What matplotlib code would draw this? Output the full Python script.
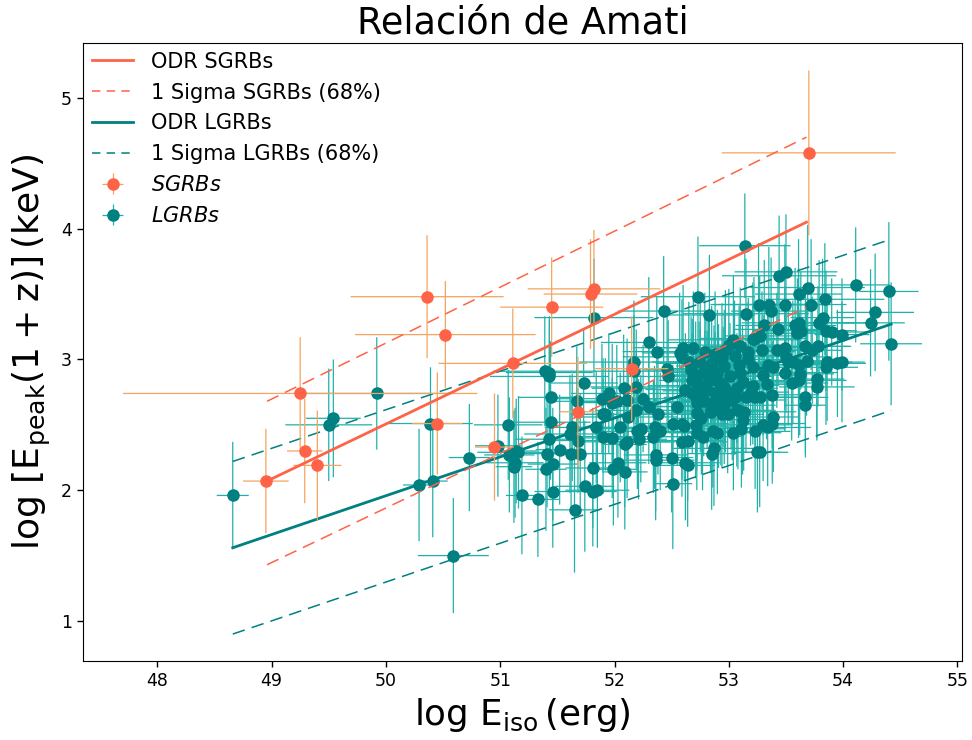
import matplotlib
matplotlib.use('Agg')
import matplotlib.pyplot as plt

# lineas ODR y bandas de 1 sigma
sgrb_fit_x = [48.96, 53.68]
sgrb_fit_y = [2.07, 4.05]
sgrb_up_y = [2.68, 4.70]
sgrb_lo_y = [1.43, 3.40]

lgrb_fit_x = [48.66, 54.42]
lgrb_fit_y = [1.56, 3.27]
lgrb_up_y = [2.22, 3.92]
lgrb_lo_y = [0.90, 2.61]

# SGRBs
sgrb_x = [53.70, 50.36, 50.52, 49.25, 51.11, 51.45, 51.79, 51.82,
          52.15, 51.68, 50.45, 50.95, 49.29, 49.40, 48.95]
sgrb_y = [4.58, 3.48, 3.19, 2.74, 2.97, 3.40, 3.50, 3.54,
          2.93, 2.60, 2.51, 2.33, 2.30, 2.19, 2.07]
sgrb_xerr = [0.76, 0.67, 0.79, 1.55, 0.65, 0.45, 0.41, 0.58,
             0.32, 0.17, 0.22, 0.17, 0.155, 0.21, 0.20]
sgrb_yerr = [0.63, 0.47, 0.41, 0.43, 0.42, 0.38, 0.42, 0.45,
             0.40, 0.42, 0.39, 0.41, 0.40, 0.42, 0.40]

# LGRBs
lgrb_x = [48.66, 50.59, 49.92, 49.50, 49.54, 50.39, 50.29, 50.41,
          50.73, 50.98, 51.07, 51.08, 51.14, 51.13, 51.12, 51.39,
          51.43, 51.43, 51.73, 51.44, 51.67, 51.44, 51.63, 51.61,
          51.84, 51.43, 51.68, 51.90, 51.98, 51.52, 51.16, 51.41,
          51.62, 51.70, 51.46, 51.40, 51.81, 51.99, 51.19, 51.33,
          51.46, 51.74, 51.81, 51.85, 51.65, 52.03, 52.09, 52.36,
          52.36, 52.50, 52.62, 52.64, 52.51, 52.87, 52.85, 53.27,
          53.25, 53.23, 53.30, 53.34, 53.39, 53.38, 53.04, 53.12,
          53.08, 52.90, 52.86, 52.77, 52.72, 52.64, 52.59, 52.40,
          52.34, 52.35, 52.23, 52.20, 52.21, 52.11, 52.09, 52.05,
          52.51, 52.59, 52.38, 52.71, 52.72, 52.84, 52.93, 52.99,
          51.92, 52.12, 52.30, 52.37, 52.46, 52.17, 52.17, 52.08,
          52.19, 51.95, 51.89, 51.98, 52.02, 52.11, 52.25, 52.30,
          52.19, 51.90, 52.55, 52.61, 52.59, 52.57, 52.60, 52.69,
          52.79, 52.67, 52.75, 52.85, 52.94, 52.97, 53.00, 53.04,
          53.10, 53.17, 53.17, 53.21, 53.21, 53.27, 53.31, 53.43,
          53.29, 53.42, 53.49, 53.34, 53.39, 53.30, 53.33, 53.49,
          53.55, 53.56, 53.38, 52.62, 52.71, 52.79, 52.81, 52.90,
          52.91, 53.01, 53.10, 53.12, 53.21, 53.07, 52.88, 52.97,
          53.19, 53.27, 52.71, 52.72, 52.78, 52.91, 52.84, 52.91,
          52.94, 53.07, 53.13, 53.14, 53.50, 53.44, 53.69, 53.61,
          54.11, 54.40, 54.28, 54.24, 54.42, 52.83, 53.15, 53.26,
          53.35, 53.37, 53.49, 53.72, 53.84, 53.82, 53.79, 53.61,
          53.58, 53.85, 53.90, 53.99, 53.63, 53.60, 53.22, 53.67,
          53.78, 53.73, 53.50, 53.52, 53.68, 53.86, 53.85, 53.95,
          53.99, 53.61, 53.62, 53.61, 53.77, 53.77, 53.67, 53.67,
          53.23, 52.73, 52.43, 51.82, 52.47, 52.82, 52.68, 52.96,
          53.15, 53.03, 52.76, 53.11,
          52.82, 52.87, 52.95, 53.02, 52.75, 52.88, 52.96, 53.05,
          52.68, 52.74, 52.96, 52.88, 53.05, 53.09, 52.80, 52.65]
lgrb_y = [1.96, 1.50, 2.74, 2.50, 2.55, 2.51, 2.04, 2.07,
          2.25, 2.34, 2.50, 2.27, 2.30, 2.21, 2.18, 2.91,
          2.90, 2.87, 2.82, 2.71, 2.68, 2.52, 2.48, 2.43,
          2.48, 2.39, 2.38, 2.41, 2.40, 2.31, 2.29, 2.28,
          2.28, 2.28, 2.20, 2.16, 2.17, 2.16, 1.96, 1.93,
          1.99, 2.03, 1.99, 2.00, 1.85, 2.21, 2.14, 2.27,
          2.23, 2.25, 2.21, 2.19, 2.05, 2.32, 2.28, 2.29,
          2.29, 2.45, 2.50, 2.48, 2.56, 2.51, 2.44, 2.54,
          2.61, 2.44, 2.45, 2.41, 2.44, 2.38, 2.37, 2.45,
          2.41, 2.48, 2.47, 2.45, 2.39, 2.37, 2.35, 2.48,
          2.51, 2.51, 2.58, 2.50, 2.59, 2.60, 2.61, 2.58,
          2.58, 2.56, 3.13, 3.06, 2.93, 2.98, 2.91, 2.78,
          2.79, 2.74, 2.70, 2.67, 2.68, 2.69, 2.70, 2.64,
          2.61, 2.58, 2.64, 2.49, 3.02, 3.05, 3.09, 3.09,
          3.06, 2.92, 2.98, 2.97, 3.01, 3.07, 3.11, 3.15,
          3.10, 3.06, 3.00, 2.94, 3.16, 3.18, 3.26, 3.23,
          3.07, 3.07, 3.09, 2.96, 2.94, 2.88, 2.81, 2.90,
          2.82, 2.98, 2.73, 2.77, 2.83, 2.80, 2.77, 2.90,
          2.83, 2.87, 2.90, 2.83, 2.80, 2.78, 2.74, 2.73,
          2.75, 2.71, 2.71, 2.67, 2.68, 2.69, 2.61, 2.63,
          2.58, 2.61, 2.60, 3.87, 3.67, 3.64, 3.55, 3.50,
          3.57, 3.52, 3.36, 3.28, 3.12, 3.34, 3.35, 3.42,
          3.42, 3.37, 3.42, 3.42, 3.46, 3.32, 3.28, 3.28,
          3.26, 3.22, 3.21, 3.19, 3.22, 3.20, 3.16, 3.10,
          3.10, 3.07, 3.02, 2.98, 2.99, 2.98, 2.94, 2.97,
          2.98, 2.96, 2.89, 2.84, 2.85, 2.79, 2.71, 2.65,
          2.71, 3.48, 3.37, 3.32, 2.87, 2.91, 2.84, 2.79,
          2.71, 2.69, 2.55, 2.47,
          2.88, 2.85, 2.79, 2.74, 2.76, 2.68, 2.65, 2.71,
          2.74, 2.88, 2.95, 3.04, 3.03, 2.96, 2.93, 2.98]
lgrb_xerr = [0.14, 0.31, 0.69, 0.38, 0.24, 0.37, 0.14, 0.13,
             0.18, 0.20, 0.30, 0.22, 0.18, 0.25, 0.16, 0.45,
             0.38, 0.52, 0.30, 0.28, 0.20, 0.35, 0.24, 0.40,
             0.22, 0.30, 0.28, 0.33, 0.26, 0.21, 0.36, 0.26,
             0.19, 0.30, 0.22, 0.18, 0.24, 0.20, 0.14, 0.19,
             0.16, 0.26, 0.21, 0.28, 0.22, 0.25, 0.20, 0.28,
             0.34, 0.19, 0.30, 0.24, 0.17, 0.36, 0.22, 0.25,
             0.20, 0.31, 0.26, 0.38, 0.22, 0.29, 0.42, 0.27,
             0.33, 0.45, 0.28, 0.36, 0.24, 0.31, 0.40, 0.26,
             0.35, 0.21, 0.44, 0.30, 0.25, 0.38, 0.19, 0.32,
             0.27, 0.41, 0.23, 0.34, 0.48, 0.29, 0.37, 0.22,
             0.30, 0.43, 0.42, 0.30, 0.25, 0.48, 0.35, 0.28,
             0.40, 0.33, 0.45, 0.26, 0.38, 0.21, 0.34, 0.29,
             0.36, 0.24, 0.31, 0.39, 0.52, 0.33, 0.44, 0.27,
             0.36, 0.41, 0.30, 0.49, 0.26, 0.38, 0.45, 0.58,
             0.33, 0.41, 0.29, 0.37, 0.46, 0.31, 0.25, 0.39,
             0.52, 0.35, 0.28, 0.43, 0.30, 0.37, 0.24, 0.46,
             0.32, 0.29, 0.41, 0.35, 0.27, 0.50, 0.33, 0.42,
             0.26, 0.38, 0.31, 0.44, 0.23, 0.36, 0.47, 0.29,
             0.34, 0.40, 0.28, 0.52, 0.35, 0.30, 0.43, 0.25,
             0.37, 0.33, 0.46, 0.40, 0.45, 0.50, 0.50, 0.38,
             0.30, 0.26, 0.34, 0.30, 0.27, 0.40, 0.55, 0.42,
             0.48, 0.35, 0.40, 0.31, 0.52, 0.28, 0.44, 0.50,
             0.36, 0.27, 0.33, 0.24, 0.42, 0.30, 0.46, 0.38,
             0.29, 0.26, 0.40, 0.34, 0.31, 0.22, 0.28, 0.25,
             0.20, 0.36, 0.30, 0.42, 0.24, 0.33, 0.20, 0.18,
             0.38, 0.50, 0.40, 0.52, 0.45, 0.35, 0.29, 0.41,
             0.33, 0.47, 0.26, 0.39,
             0.30, 0.36, 0.24, 0.41, 0.33, 0.27, 0.45, 0.31,
             0.38, 0.25, 0.42, 0.29, 0.35, 0.48, 0.26, 0.32]
lgrb_yerr = [0.41, 0.44, 0.43, 0.43, 0.45, 0.43, 0.43, 0.43,
             0.41, 0.39, 0.42, 0.44, 0.40, 0.42, 0.43, 0.42,
             0.40, 0.46, 0.41, 0.43, 0.42, 0.44, 0.41, 0.45,
             0.43, 0.42, 0.40, 0.44, 0.46, 0.42, 0.43, 0.41,
             0.44, 0.46, 0.43, 0.47, 0.46, 0.43, 0.45, 0.44,
             0.43, 0.50, 0.42, 0.44, 0.48, 0.42, 0.44, 0.43,
             0.46, 0.42, 0.44, 0.47, 0.50, 0.44, 0.43, 0.42,
             0.46, 0.44, 0.43, 0.45, 0.42, 0.46, 0.44, 0.42,
             0.45, 0.47, 0.43, 0.41, 0.44, 0.46, 0.42, 0.45,
             0.43, 0.47, 0.41, 0.44, 0.46, 0.43, 0.48, 0.42,
             0.45, 0.43, 0.46, 0.41, 0.44, 0.47, 0.42, 0.45,
             0.43, 0.44, 0.50, 0.42, 0.45, 0.47, 0.43, 0.41,
             0.44, 0.46, 0.42, 0.45, 0.43, 0.47, 0.41, 0.44,
             0.46, 0.43, 0.45, 0.42, 0.44, 0.46, 0.48, 0.43,
             0.45, 0.41, 0.47, 0.44, 0.42, 0.46, 0.43, 0.49,
             0.45, 0.41, 0.44, 0.47, 0.43, 0.46, 0.50, 0.42,
             0.45, 0.44, 0.47, 0.41, 0.43, 0.46, 0.42, 0.45,
             0.44, 0.47, 0.41, 0.43, 0.46, 0.42, 0.45, 0.48,
             0.44, 0.41, 0.46, 0.43, 0.45, 0.42, 0.47, 0.44,
             0.41, 0.46, 0.43, 0.45, 0.42, 0.48, 0.44, 0.46,
             0.41, 0.43, 0.45, 0.40, 0.44, 0.46, 0.48, 0.42,
             0.44, 0.53, 0.45, 0.41, 0.47, 0.46, 0.42, 0.47,
             0.44, 0.41, 0.46, 0.50, 0.43, 0.45, 0.48, 0.42,
             0.44, 0.46, 0.41, 0.43, 0.45, 0.42, 0.47, 0.44,
             0.46, 0.41, 0.43, 0.48, 0.42, 0.45, 0.44, 0.41,
             0.46, 0.43, 0.47, 0.44, 0.45, 0.41, 0.43, 0.40,
             0.44, 0.46, 0.42, 0.45, 0.43, 0.41, 0.47, 0.44,
             0.42, 0.46, 0.43, 0.45,
             0.44, 0.41, 0.46, 0.43, 0.47, 0.42, 0.45, 0.44,
             0.46, 0.41, 0.43, 0.48, 0.42, 0.45, 0.44, 0.46]

dash_main = (8.3, 4.7)

fig = plt.figure(figsize=(9.72, 7.40), dpi=100)
ax = fig.add_axes([83 / 972, 1 - 661 / 740, (962 - 83) / 972, (661 - 43) / 740])

ax.plot(sgrb_fit_x, sgrb_fit_y, color='tomato', lw=2, label='ODR SGRBs', zorder=6)
ax.plot(sgrb_fit_x, sgrb_up_y, color='tomato', lw=1.1, dashes=dash_main, label='1 Sigma SGRBs (68%)', zorder=6)
ax.plot(sgrb_fit_x, sgrb_lo_y, color='tomato', lw=1.1, dashes=dash_main, zorder=6)
ax.plot(lgrb_fit_x, lgrb_fit_y, color='teal', lw=2, label='ODR LGRBs', zorder=3.5)
ax.plot(lgrb_fit_x, lgrb_up_y, color='teal', lw=1.1, dashes=dash_main, label='1 Sigma LGRBs (68%)', zorder=3.5)
ax.plot(lgrb_fit_x, lgrb_lo_y, color='teal', lw=1.1, dashes=dash_main, zorder=3.5)

eb2 = ax.errorbar(lgrb_x, lgrb_y, xerr=lgrb_xerr, yerr=lgrb_yerr, fmt='o', ms=8, color='teal',
                  ecolor='lightseagreen', elinewidth=0.9, label=r'$\it{LGRBs}$', zorder=3)
eb1 = ax.errorbar(sgrb_x, sgrb_y, xerr=sgrb_xerr, yerr=sgrb_yerr, fmt='o', ms=8, color='tomato',
                  ecolor='sandybrown', elinewidth=0.9, label=r'$\it{SGRBs}$', zorder=4)
for c in list(eb1[2]) + list(eb2[2]):
    c.set_snap(False)

ax.set_xlim(47.35, 55.04)
ax.set_ylim(0.694, 5.42)
ax.tick_params(labelsize=12.5, width=1, length=4.5)
ax.set_title('Relación de Amati', fontsize=26.4, pad=7)
ax.set_xlabel(r'$\log\,\mathrm{E_{iso}}\,(\mathrm{erg})$', fontsize=25.7, labelpad=4)
ax.set_ylabel(r'$\log\,[\mathrm{E_{peak}}(1+\mathrm{z})]\,(\mathrm{keV})$', fontsize=26, labelpad=6)

# orden de la leyenda: lineas, SGRBs, LGRBs
h, l = ax.get_legend_handles_labels()
order = [0, 1, 2, 3, 5, 4]
leg = ax.legend([h[i] for i in order], [l[i] for i in order], loc='upper left', frameon=False,
                fontsize=15, borderaxespad=0, borderpad=0.42, handletextpad=0.85, labelspacing=0.52)
for i in (1, 3):
    leg.get_lines()[i].set_dashes((5.5, 4.1))

fig.savefig('out.png', dpi=100)
